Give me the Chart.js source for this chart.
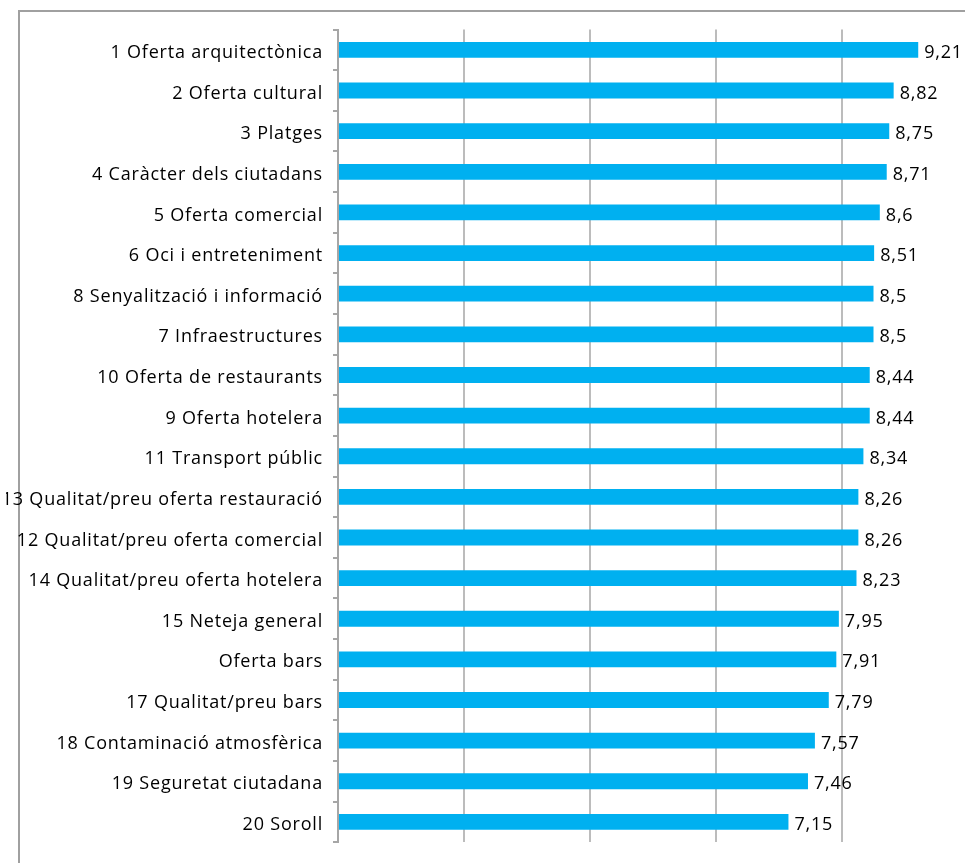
<!DOCTYPE html>
<html>
<head>
<meta charset="utf-8">
<script src="https://cdn.jsdelivr.net/npm/chart.js@4"></script>
<style>
  html, body { margin: 0; padding: 0; background: #fff; overflow: hidden; }
  #frame { position: absolute; left: 18px; top: 10px; width: 1000px; height: 900px;
           border-left: 2px solid #a0a0a0; border-top: 2px solid #a0a0a0; }
  #wrap { position: absolute; left: 6px; top: 0; width: 974px; height: 863px; overflow: hidden; }
  #myChart { margin-left: -6px; }
</style>
</head>
<body>
<div id="frame"></div>
<div id="wrap"><canvas id="myChart"></canvas></div>
<script>
var categories = [
  "1 Oferta arquitectònica", "2 Oferta cultural", "3 Platges", "4 Caràcter dels ciutadans",
  "5 Oferta comercial", "6 Oci i entreteniment", "8 Senyalització i informació",
  "7 Infraestructures", "10 Oferta de restaurants", "9 Oferta hotelera",
  "11 Transport públic", "13 Qualitat/preu oferta restauració",
  "12 Qualitat/preu oferta comercial", "14 Qualitat/preu oferta hotelera",
  "15 Neteja general", "Oferta bars", "17 Qualitat/preu bars",
  "18 Contaminació atmosfèrica", "19 Seguretat ciutadana", "20 Soroll"
]
var scores = [9.21, 8.82, 8.75, 8.71, 8.6, 8.51, 8.5, 8.5, 8.44, 8.44,
              8.34, 8.26, 8.26, 8.23, 7.95, 7.91, 7.79, 7.57, 7.46, 7.15]

var font = "'Open Sans', sans-serif"
var spacing = "0.8px"

// a little tracking on all text; the context is reset on resize so set it every pass
var tracking = {
  id: 'tracking',
  beforeLayout(chart) { chart.ctx.letterSpacing = spacing },
  beforeDraw(chart) { chart.ctx.letterSpacing = spacing }
}

// writes each bar's value just past its end, with a decimal comma
var valueLabels = {
  id: 'valueLabels',
  afterDatasetsDraw(chart) {
    var ctx = chart.ctx
    var meta = chart.getDatasetMeta(0)
    ctx.save()
    ctx.letterSpacing = spacing
    ctx.font = "18px " + font
    ctx.fillStyle = "#000"
    ctx.textAlign = "left"
    ctx.textBaseline = "middle"
    meta.data.forEach(function(bar, i) {
      var txt = String(scores[i]).replace(".", ",")
      ctx.fillText(txt, bar.x + 6, bar.y + 3)
    })
    ctx.restore()
  }
}

function renderChart() {
  var ctx = document.getElementById("myChart").getContext("2d")
  new Chart(ctx, {
    type: 'bar',
    data: {
      labels: categories,
      datasets: [{
        data: scores,
        backgroundColor: "#00b0f0",
        categoryPercentage: 1,
        barPercentage: 0.39
      }]
    },
    options: {
      indexAxis: 'y',
      responsive: false,
      animation: false,
      devicePixelRatio: 1,
      layout: { padding: { left: 0, top: 29.6, right: 12, bottom: 0 } },
      plugins: { legend: { display: false }, tooltip: { enabled: false } },
      scales: {
        x: {
          min: 0, max: 10,
          ticks: { display: false, stepSize: 2 },
          grid: { color: "#bcbcbc", lineWidth: 2, drawTicks: false },
          border: { display: false },
          afterFit: function(s) { s.height = 16.6 }
        },
        y: {
          ticks: { color: "#000", font: { family: font, size: 18 }, padding: 10, labelOffset: 3 },
          grid: { drawOnChartArea: false, offset: true, color: "#a6a6a6", lineWidth: 2, tickLength: 5 },
          border: { color: "#a6a6a6", width: 2 },
          afterFit: function(s) { s.width = 338 }
        }
      }
    },
    plugins: [tracking, valueLabels]
  })
}

var c = document.getElementById("myChart")
c.width = 980
c.height = 863
renderChart()
</script>
</body>
</html>
